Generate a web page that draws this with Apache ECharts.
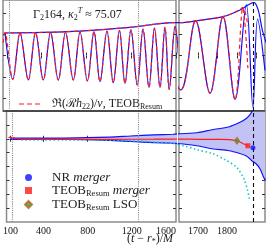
<!DOCTYPE html>
<html><head><meta charset="utf-8">
<script src="https://cdn.jsdelivr.net/npm/echarts@6/dist/echarts.min.js"></script>
<style>html,body{margin:0;padding:0;background:#fff}#c{width:266px;height:245px}</style>
</head><body><div id="c"></div>
<script>
// ---------- data ----------
// top panel: Re(R h22)/nu extrema (NR, blue) and TEOBResum (red dashed)
const nrReT = [82,151,215,289,353,422,486,555,619,688,748,813,872,925,987,1043,1098,1147,1200,1256,1307,1360,1409,1458,1502,1540,1592,1655.6,1693.6,1730.8,1764,1795,1824,1841,1853,1872];
const nrReV = [0.52,-0.557,0.53,-0.574,0.535,-0.574,0.54,-0.574,0.545,-0.574,0.55,-0.597,0.56,-0.614,0.57,-0.637,0.585,-0.651,0.6,-0.691,0.62,-0.745,0.64,-0.745,0.66,-0.792,0.68,-0.808,0.815,-0.885,0.909,-1.026,1.19,-1.213,0.85,-0.35];
const teobReT = [66,80,151,215,289,353,422,486,555,619,688,748,813,872,925,987,1043,1098,1147,1200,1256,1307,1360,1409,1458,1502,1540,1592,1655.6,1693.6,1730.8,1764,1795,1815,1828];
const teobReV = [0.3,0.53,-0.557,0.53,-0.574,0.535,-0.574,0.54,-0.574,0.545,-0.574,0.55,-0.597,0.56,-0.614,0.57,-0.637,0.585,-0.651,0.6,-0.691,0.62,-0.745,0.64,-0.745,0.66,-0.792,0.68,-0.808,0.815,-0.885,0.909,-1.026,1.11,-0.3];
// amplitude envelopes
const nrAmpT = [82,632,1191,1573,1654,1697,1764,1808,1833,1844,1855,1865,1875];
const nrAmpV = [0.527,0.557,0.66,0.768,0.768,0.815,0.909,1.066,1.206,1.237,1.05,0.6,0.3];
const teobAmpT = [70,632,1191,1573,1654,1697,1764,1800,1815,1828];
const teobAmpV = [0.527,0.557,0.66,0.768,0.768,0.815,0.909,1.04,1.12,0.7];
// bottom panel: phase difference
const bandT = [100,600,1000,1191,1400,1573,1654,1697,1736,1780,1805,1823,1833,1838,1849,1859,1869,1875];
const bandUp = [0.01,0.013,0.03,0.05,0.07,0.081,0.09,0.108,0.162,0.216,0.288,0.36,0.432,0.486,0.68,0.9,1.2,1.35];
const bandLo = [-0.01,-0.013,-0.03,-0.05,-0.07,-0.081,-0.09,-0.126,-0.18,-0.216,-0.261,-0.306,-0.36,-0.396,-0.45,-0.54,-0.70,-0.75];
const teobDphiT = [82,100,150,300,600,1000,1400,1654,1700,1750,1780,1800,1815,1828];
const teobDphiV = [0.02,0.03,0,-0.008,-0.01,-0.01,-0.008,-0.005,-0.01,-0.012,-0.015,-0.036,-0.085,-0.126];
const cyanT = [200,331,600,900,1191,1400,1600,1661,1697,1738,1774,1800,1820,1833];
const cyanV = [-0.023,-0.023,-0.02,-0.025,-0.036,-0.06,-0.09,-0.126,-0.198,-0.27,-0.396,-0.52,-0.757,-1.117];
const nrMerger = [1841,-0.162];
const teobMerger = [1828,-0.126];
const teobLSO = [1800,-0.036];
const matchLines = [118,1262];
const mergerLine = 1841;
// axes
const leftRange = [64,1600];
const rightRange = [1651,1872];
const leftTicks = [100,400,800,1200,1600];
const rightTicks = [1700,1750,1800,1850];
const rightLabels = [1700,1800];
const topRange = [-1.3,1.3];
const topYTicks = [-1,-0.5,0,0.5,1];
const botRange = [-1.5,0.5];
const botYTicks = [-1.25,-1,-0.75,-0.5,-0.25,0,0.25];

// ---------- chart ----------
const FF = "'Liberation Serif','DejaVu Serif',serif";
const zip = (T,V) => T.map((t,i)=>[t,V[i]]);
const base = {fontFamily:FF,fontWeight:'normal',color:'#222'};
function mkRich(fs, ss, pad){
  return {
    n:Object.assign({fontSize:fs},base),
    i:Object.assign({fontSize:fs,fontStyle:'italic'},base),
    s:Object.assign({fontSize:ss,padding:[pad,0,0,0]},base),
    sup:Object.assign({fontSize:ss,fontStyle:'italic',padding:[0,0,pad+1,0]},base)
  };
}
const rich = mkRich(12,8,6);
const rich2 = mkRich(13,8.5,6);
const grid = [
  {left:3,top:0,width:173,height:111},
  {left:179,top:0,width:86,height:111},
  {left:3,top:111,width:173,height:111},
  {left:179,top:111,width:86,height:111}
].map(g=>Object.assign({show:true,borderColor:'#8c8c8c',borderWidth:1.5},g));

function xa(gi,rng,ticks,pos,labels){
  return {gridIndex:gi,type:'value',min:rng[0],max:rng[1],position:pos,
    axisLine:{show:false},splitLine:{show:false},
    axisTick:{show:true,inside:true,length:3,customValues:ticks,lineStyle:{color:'#333',width:1}},
    axisLabel: labels ? {show:true,customValues:labels,formatter:v=>String(v),fontFamily:FF,fontSize:10,color:'#111',margin:4,alignMaxLabel:'right'} : {show:false}};
}
function ya(gi,rng,ticks,pos){
  return {gridIndex:gi,type:'value',min:rng[0],max:rng[1],position:pos,
    axisLine:{show:false},splitLine:{show:false},
    axisTick:{show:true,inside:true,length:3,customValues:ticks,lineStyle:{color:'#333',width:1}},
    axisLabel:{show:false}};
}
const xAxis = [
  xa(0,leftRange,leftTicks,'bottom'), xa(1,rightRange,rightTicks,'bottom'),
  xa(2,leftRange,leftTicks,'bottom',leftTicks), xa(3,rightRange,rightTicks,'bottom',rightLabels),
  xa(0,leftRange,leftTicks,'top'), xa(1,rightRange,rightTicks,'top'),
  xa(2,leftRange,leftTicks,'top'), xa(3,rightRange,rightTicks,'top')
];
const yAxis = [
  ya(0,topRange,topYTicks,'left'), ya(1,topRange,topYTicks,'left'),
  ya(2,botRange,botYTicks,'left'), ya(3,botRange,botYTicks,'left'),
  ya(0,topRange,topYTicks,'right'), ya(1,topRange,topYTicks,'right'),
  ya(2,botRange,botYTicks,'right'), ya(3,botRange,botYTicks,'right')
];
const BLUE='#1010ff', RED='#ff1a1a';
function line(name,ai,data,color,o){
  o=o||{};
  return {type:'line',name,xAxisIndex:ai,yAxisIndex:ai,data,symbol:'none',showSymbol:false,
    smooth:o.smooth===undefined?0.36:o.smooth,silent:true,z:o.z||2,
    itemStyle:{color},
    lineStyle:{color,width:o.w||1.2,type:o.type||'solid'},
    markLine:o.markLine};
}
function vlines(vals,color,type){
  return {silent:true,symbol:'none',label:{show:false},animation:false,
    lineStyle:{color,type,width:1.1},data:vals.map(v=>({xAxis:v}))};
}
const series=[];
[0,1].forEach(ai=>{
  const ml = ai===0 ? vlines(matchLines,'#888','dotted') : vlines([mergerLine],'#111',[4,3]);
  series.push(line('nrAmp'+ai,ai,zip(nrAmpT,nrAmpV),BLUE,{smooth:0.3}));
  series.push(line('nrRe'+ai,ai,zip(nrReT,nrReV),BLUE,{markLine:ml}));
  series.push(line('teobAmp'+ai,ai,zip(teobAmpT,teobAmpV),RED,{type:[4,3],smooth:0.3,z:3}));
  series.push(line('TEOBre',ai,zip(teobReT,teobReV),RED,{type:[4,3],z:3}));
});
[2,3].forEach(ai=>{
  const ml = ai===2 ? vlines(matchLines,'#888','dotted') : vlines([mergerLine],'#111',[4,3]);
  series.push({type:'custom',name:'band'+ai,xAxisIndex:ai,yAxisIndex:ai,data:bandT.map((t,i)=>[t,bandUp[i],bandLo[i]]),
    clip:true,silent:true,z:1,
    renderItem:(params,api)=>{
      if(params.dataIndex!==0) return null;
      const up = bandT.map((t,i)=>api.coord([t,bandUp[i]]));
      const lo = bandT.map((t,i)=>api.coord([t,bandLo[i]])).reverse();
      return {type:'polygon',shape:{points:up.concat(lo)},style:{fill:'#c2c2f4'}};
    }});
  series.push(line('bandUp'+ai,ai,zip(bandT,bandUp),BLUE,{smooth:0.3,markLine:ml}));
  series.push(line('bandLoL'+ai,ai,zip(bandT,bandLo),BLUE,{smooth:0.3}));
  series.push(line('cyan'+ai,ai,zip(cyanT,cyanV),'#14c8c8',{type:[1.5,2.5],w:1.6,smooth:0.3,z:3}));
  series.push(line('teobDphi'+ai,ai,zip(teobDphiT,teobDphiV),RED,{smooth:0.3,z:4}));
});
series.push({type:'scatter',name:'NR merger',xAxisIndex:3,yAxisIndex:3,data:[nrMerger],symbol:'circle',symbolSize:5,itemStyle:{color:BLUE},z:6,silent:true});
series.push({type:'scatter',name:'TEOB merger',xAxisIndex:3,yAxisIndex:3,data:[teobMerger],symbol:'rect',symbolSize:5,itemStyle:{color:RED},z:6,silent:true});
series.push({type:'scatter',name:'TEOB LSO',xAxisIndex:3,yAxisIndex:3,data:[teobLSO],symbol:'diamond',symbolSize:[5,7],itemStyle:{color:'#3d9a3d',borderColor:'#b5651d',borderWidth:1},z:6,silent:true});

const option = {
  animation:false,
  backgroundColor:'#fff',
  grid, xAxis, yAxis, series,
  title:[
    {text:'{n|Γ}{s|2}{n|164, }{i|κ}{s|2}{sup|T}{n| ≈ 75.07}',left:28,top:2,textStyle:Object.assign({rich},base)},
    {text:'{n|(}{i|t}{n| − }{i|r}{s|*}{n|)/}{i|M}',left:122,top:227,textStyle:Object.assign({rich},base)}
  ],
  legend:[
    {data:['TEOBre'],left:14,top:93,itemWidth:21,itemHeight:1.6,
     icon:'path://M0,0L5,0L5,1L0,1ZM8,0L13,0L13,1L8,1ZM16,0L21,0L21,1L16,1Z',
     itemStyle:{color:RED},
     formatter:()=> '{n|ℜ(ℛ}{i|h}{s|22}{n|)/}{i|ν}{n|, TEOB}{s|Resum}',
     textStyle:Object.assign({rich,padding:[0,0,0,7]},base)},
    {data:['NR merger','TEOB merger','TEOB LSO'],orient:'vertical',left:19,top:166,itemWidth:7,itemHeight:7,itemGap:0,
     formatter:n=> n==='NR merger' ? '{n|NR }{i|merger}' : (n==='TEOB merger' ? '{n|TEOB}{s|Resum}{i| merger}' : '{n|TEOB}{s|Resum}{n| LSO}'),
     textStyle:Object.assign({rich:rich2,padding:[0,0,0,15]},base)}
  ],
  graphic:[{type:'line',shape:{x1:3,y1:111,x2:265,y2:111},style:{stroke:'#000',lineWidth:1},z:100}]
};
echarts.init(document.getElementById('c'),null,{renderer:'canvas'}).setOption(option);
</script></body></html>
